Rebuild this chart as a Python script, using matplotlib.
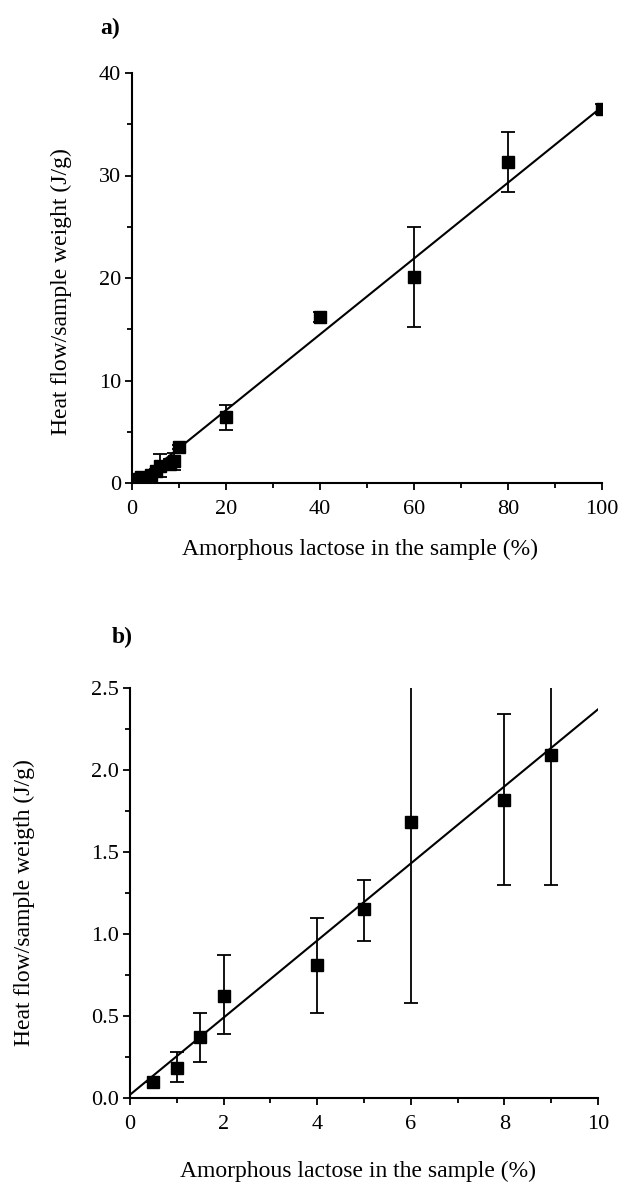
import numpy as np
import matplotlib
matplotlib.use("Agg")
import matplotlib.pyplot as plt
from matplotlib.ticker import MultipleLocator, FormatStrFormatter

plt.rcParams['font.family'] = ['Liberation Serif', 'DejaVu Serif']

# panel a) whole range
a_x = [0.5, 1, 1.5, 2, 4, 5, 6, 8, 9, 10, 20, 40, 60, 80, 100]
a_y = [0.10, 0.18, 0.37, 0.63, 0.81, 1.15, 1.69, 1.83, 2.10, 3.5, 6.4, 16.2, 20.1, 31.3, 36.5]
a_err = [0.02, 0.09, 0.15, 0.24, 0.28, 0.18, 1.1, 0.52, 0.8, 0.2, 1.2, 0.5, 4.9, 2.9, 0.5]
a_fit = (-0.3, 0.37)   # intercept, slope

# panel b) 0-10 %
b_x = [0.5, 1, 1.5, 2, 4, 5, 6, 8, 9]
b_y = [0.10, 0.18, 0.37, 0.62, 0.81, 1.15, 1.68, 1.82, 2.09]
b_err_lo = [0.0, 0.08, 0.15, 0.23, 0.29, 0.19, 1.10, 0.52, 0.79]
b_err_hi = [0.0, 0.10, 0.15, 0.25, 0.29, 0.18, 1.10, 0.52, 0.79]
b_fit = (0.02, 0.235)

W, H = 620, 1183
fig = plt.figure(figsize=(W / 100, H / 100), dpi=100)


def style(ax):
    for s in ['top', 'right']:
        ax.spines[s].set_visible(False)
    for s in ['left', 'bottom']:
        ax.spines[s].set_linewidth(1.5)
    ax.tick_params(which='major', direction='out', length=5, width=1.3, labelsize=16)
    ax.tick_params(which='minor', direction='out', length=3.5, width=1.3)
    ax.tick_params(axis='x', which='major', pad=7)
    ax.tick_params(axis='y', which='major', pad=3)


# ---- a)
ax1 = fig.add_axes([132 / W, 1 - 483 / H, 470 / W, 410 / H])
xs = np.array([0, 100])
ax1.plot(xs, a_fit[0] + a_fit[1] * xs, 'k-', linewidth=1.5)
ax1.errorbar(a_x, a_y, yerr=a_err, fmt='s', color='k', markersize=8,
             elinewidth=1.3, capsize=5, capthick=1.3)
ax1.set_xlim(0, 100)
ax1.set_ylim(0, 40)
ax1.xaxis.set_major_locator(MultipleLocator(20))
ax1.xaxis.set_minor_locator(MultipleLocator(10))
ax1.yaxis.set_major_locator(MultipleLocator(10))
ax1.yaxis.set_minor_locator(MultipleLocator(5))
style(ax1)
ax1.set_xlabel('Amorphous lactose in the sample (%)', fontsize=17, va='center')
ax1.xaxis.set_label_coords(0.485, -0.163)
ax1.set_ylabel('Heat flow/sample weight (J/g)', fontsize=17, va='center')
ax1.yaxis.set_label_coords(-0.151, 0.468)
fig.text(110 / W, 1 - 28 / H, 'a)', fontsize=17, fontweight='bold', ha='center', va='center')

# ---- b)
ax2 = fig.add_axes([130 / W, 1 - 1098 / H, 468 / W, 410 / H])
xs = np.array([0, 10])
ax2.plot(xs, b_fit[0] + b_fit[1] * xs, 'k-', linewidth=1.5)
ax2.errorbar(b_x, b_y, yerr=[b_err_lo, b_err_hi], fmt='s', color='k', markersize=9,
             elinewidth=1.3, capsize=5, capthick=1.3)
ax2.set_xlim(0, 10)
ax2.set_ylim(0, 2.5)
ax2.xaxis.set_major_locator(MultipleLocator(2))
ax2.xaxis.set_minor_locator(MultipleLocator(1))
ax2.yaxis.set_major_locator(MultipleLocator(0.5))
ax2.yaxis.set_minor_locator(MultipleLocator(0.25))
ax2.yaxis.set_major_formatter(FormatStrFormatter('%.1f'))
style(ax2)
ax2.set_xlabel('Amorphous lactose in the sample (%)', fontsize=17, va='center')
ax2.xaxis.set_label_coords(0.488, -0.178)
ax2.set_ylabel('Heat flow/sample weigth (J/g)', fontsize=17, va='center')
ax2.yaxis.set_label_coords(-0.2265, 0.476)
fig.text(122 / W, 1 - 637 / H, 'b)', fontsize=17, fontweight='bold', ha='center', va='center')

fig.savefig('out.png', dpi=100)
